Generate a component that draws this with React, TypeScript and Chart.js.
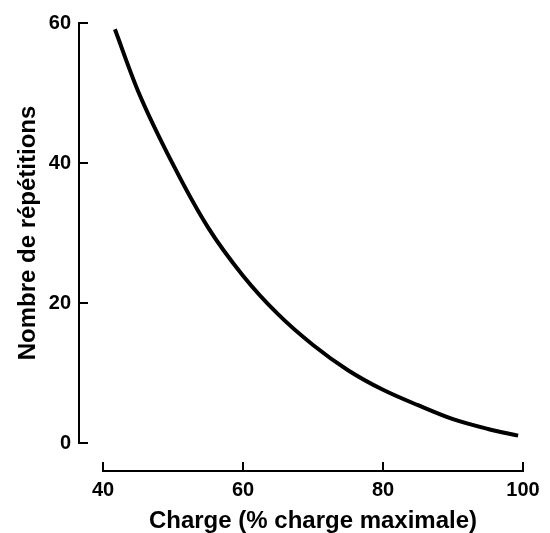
import { useEffect, useRef } from "react";
import { Chart, registerables } from "chart.js";

Chart.register(...registerables);

// Charge (% of maximal load) and number of repetitions
const chargeValues = [41.7, 45, 50, 55, 60, 65, 70, 75, 80, 85, 90, 95, 99.3];
const repetitionValues = [59.1, 50.3, 39.8, 30.8, 23.9, 18.4, 14.0, 10.4, 7.6, 5.4, 3.4, 2.0, 1.05];
const xTickValues = [40, 60, 80, 100];
const yTickValues = [0, 20, 40, 60];
const xTitle = "Charge (% charge maximale)";
const yTitle = "Nombre de répétitions";

const FONT = '"Liberation Sans", Arial, Helvetica, sans-serif';
const Y_AXIS_GAP = 24;
const X_AXIS_GAP = 28;
const TICK_LEN = 8;

const detachedAxes = {
  id: "detachedAxes",
  afterDraw(chart: any) {
    const { ctx, chartArea, scales } = chart;
    const xs = scales.x;
    const ys = scales.y;
    ctx.save();
    ctx.strokeStyle = "#000";
    ctx.lineWidth = 2;
    ctx.lineCap = "square";
    // y axis
    const ax = chartArea.left - Y_AXIS_GAP;
    const yTop = ys.getPixelForValue(ys.max);
    const yBot = ys.getPixelForValue(ys.min);
    ctx.beginPath();
    ctx.moveTo(ax, yTop);
    ctx.lineTo(ax, yBot);
    ys.ticks.forEach((t: any) => {
      const py = ys.getPixelForValue(t.value);
      ctx.moveTo(ax, py);
      ctx.lineTo(ax + TICK_LEN, py);
    });
    ctx.stroke();
    // x axis
    const ay = chartArea.bottom + X_AXIS_GAP;
    const xL = xs.getPixelForValue(xs.min);
    const xR = xs.getPixelForValue(xs.max);
    ctx.beginPath();
    ctx.moveTo(xL, ay);
    ctx.lineTo(xR, ay);
    xs.ticks.forEach((t: any) => {
      const px = xs.getPixelForValue(t.value);
      ctx.moveTo(px, ay);
      ctx.lineTo(px, ay - TICK_LEN);
    });
    ctx.stroke();
    ctx.restore();
  },
};

export default function App() {
  const ref = useRef<HTMLCanvasElement | null>(null);
  useEffect(() => {
    if (!ref.current) return;
    const chart = new Chart(ref.current, {
      type: "line",
      data: {
        datasets: [
          {
            data: chargeValues.map((c, i) => ({ x: c, y: repetitionValues[i] })),
            borderColor: "#000",
            borderWidth: 4,
            pointRadius: 0,
            fill: false,
            cubicInterpolationMode: "monotone",
          },
        ],
      },
      options: {
        animation: false,
        responsive: true,
        maintainAspectRatio: false,
        layout: { padding: { top: 23, right: 27, left: 0, bottom: 0 } },
        plugins: { legend: { display: false }, tooltip: { enabled: false } },
        scales: {
          x: {
            type: "linear",
            min: 40,
            max: 100,
            afterFit: (s: any) => {
              s.height = 90;
              s.paddingLeft = 0;
              s.paddingRight = 0;
            },
            afterBuildTicks: (s: any) => {
              s.ticks = xTickValues.map((v) => ({ value: v }));
            },
            grid: { display: false, drawTicks: false },
            border: { display: false },
            ticks: {
              color: "#000",
              padding: 35,
              font: { family: FONT, size: 20, weight: "bold" },
            },
            title: {
              display: true,
              text: xTitle,
              color: "#000",
              font: { family: FONT, size: 24, weight: "bold", lineHeight: 1 },
              padding: { top: 0, bottom: 0 },
            },
          },
          y: {
            type: "linear",
            min: 0,
            max: 60,
            afterFit: (s: any) => {
              s.width = 103;
              s.paddingTop = 0;
              s.paddingBottom = 0;
            },
            afterBuildTicks: (s: any) => {
              s.ticks = yTickValues.map((v) => ({ value: v }));
            },
            grid: { display: false, drawTicks: false },
            border: { display: false },
            ticks: {
              color: "#000",
              padding: 32,
              font: { family: FONT, size: 20, weight: "bold" },
            },
            title: {
              display: true,
              text: yTitle,
              color: "#000",
              font: { family: FONT, size: 24, weight: "bold", lineHeight: 1 },
              padding: { top: 16, bottom: 0 },
            },
          },
        },
      },
      plugins: [detachedAxes],
    });
    return () => chart.destroy();
  }, []);
  return (
    <div style={{ position: "fixed", left: 0, top: 0, width: 550, height: 533, background: "#fff" }}>
      <canvas ref={ref} />
    </div>
  );
}
